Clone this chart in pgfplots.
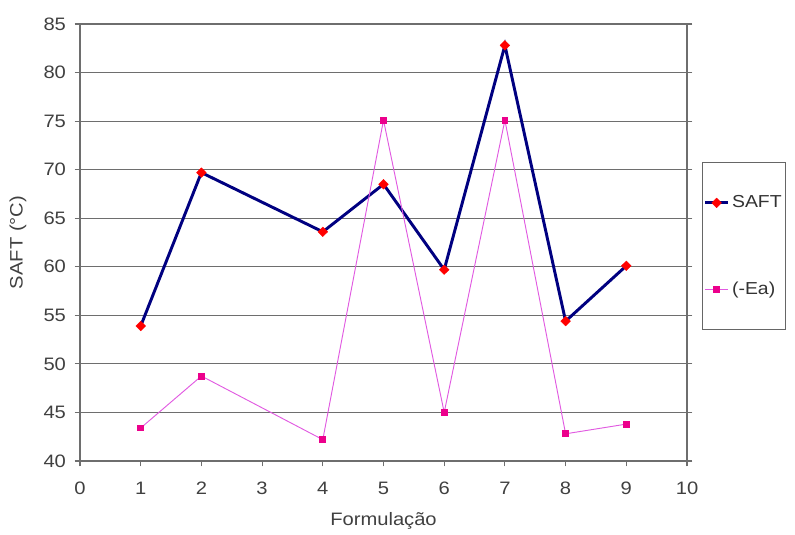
\documentclass[border=0pt]{standalone}
\usepackage{fontspec}
\setmainfont[FakeStretch=1.12]{Liberation Sans}
\usepackage{pgfplots}
\pgfplotsset{compat=1.18}
\definecolor{navy}{RGB}{0,0,128}
\definecolor{gridgray}{RGB}{110,110,110}
\definecolor{eacol}{RGB}{225,90,225}
\begin{document}
\begin{tikzpicture}[x=0.75pt,y=0.75pt]
\begin{axis}[
  at={(0,0)}, anchor=south west,
  scale only axis,
  width=455.25pt, height=327.75pt,
  xmin=0, xmax=10, ymin=40, ymax=85,
  xtick={0,1,...,10}, ytick={40,45,...,85},
  tick align=outside, xtick pos=bottom, ytick pos=both,
  major tick length=4pt,
  ymajorgrids, grid style={gridgray, line width=0.8pt},
  axis line style={gridgray, line width=0.8pt},
  tick style={gridgray, line width=0.8pt},
  /pgf/number format/assume math mode=true,
  tick label style={font=\fontsize{13.5}{15}\selectfont, text=black!75},
  yticklabel style={xshift=-3pt},
  xticklabel style={yshift=-8pt},
  xlabel={Formulação}, ylabel={SAFT (°C)},
  label style={font=\fontsize{13.5}{15}\selectfont, text=black!75},
  xlabel style={yshift=-7pt},
  ylabel style={yshift=6pt},
  legend style={at={(1.0247,0.684)}, anchor=north west, draw=black!60, line width=0.6pt,
    font=\fontsize{13}{14}\selectfont, text=black!80,
    row sep=50pt, inner ysep=23pt, inner xsep=1pt},
  legend cell align=left,
]
\addplot[navy, line width=2.2pt, mark=diamond*, mark size=3.6pt, mark options={fill=red, draw=red, line width=0.3pt, xscale=1.35}]
 coordinates {(1,53.9) (2,69.7) (4,63.6) (5,68.5) (6,59.7) (7,82.8) (8,54.4) (9,60.1)};
\addlegendentry{SAFT}
\addplot[eacol, line width=0.7pt, mark=square*, mark size=2.2pt, mark options={fill=magenta, draw=magenta}]
 coordinates {(1,43.4) (2,48.75) (4,42.2) (5,75.1) (6,45.0) (7,75.1) (8,42.8) (9,43.8)};
\addlegendentry{(-Ea)}
\end{axis}
\path[use as bounding box] (-80,-71) rectangle (715,461);
\end{tikzpicture}
\end{document}
